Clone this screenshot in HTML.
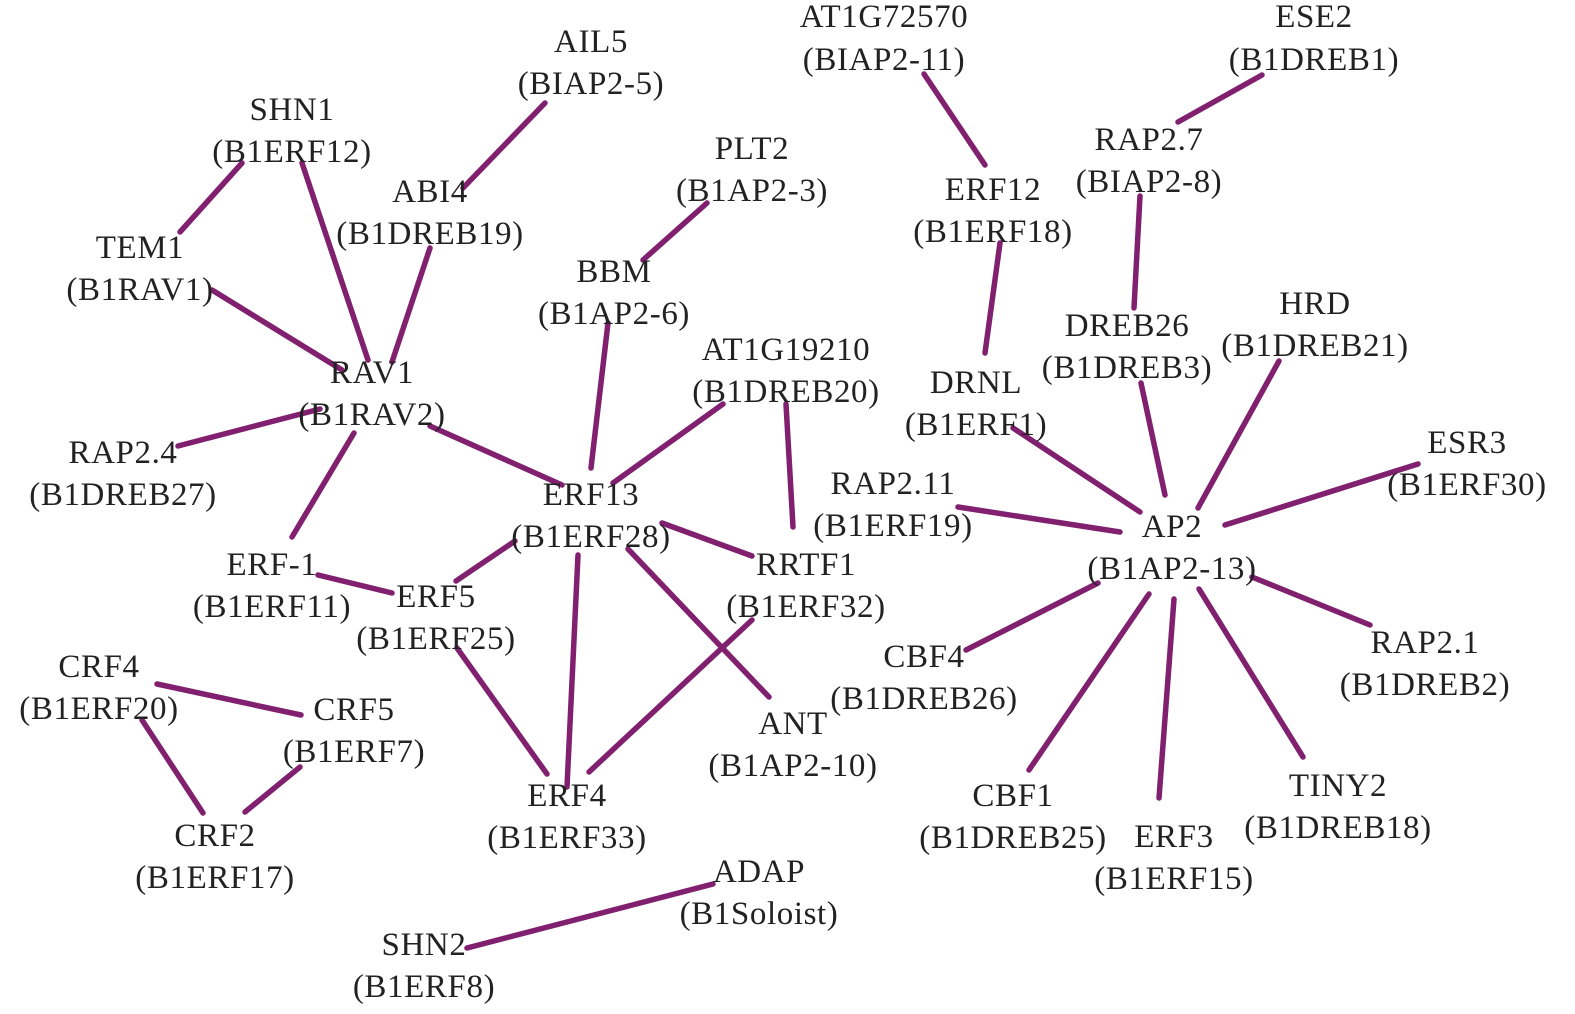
<!DOCTYPE html>
<html><head><meta charset="utf-8"><style>
html,body{margin:0;padding:0;background:#fff;}
svg{display:block;}
text{font-family:"Liberation Serif",serif;font-size:33px;letter-spacing:0.6px;fill:#222;text-anchor:middle;dominant-baseline:central;}
line{stroke:#80206f;stroke-width:5.5;stroke-linecap:round;}
</style></head><body>
<svg width="1575" height="1014" viewBox="0 0 1575 1014">
<g>
<line x1="545" y1="103" x2="463" y2="188"/>
<line x1="242" y1="163" x2="180" y2="232"/>
<line x1="302" y1="163" x2="368" y2="360"/>
<line x1="430" y1="248" x2="392" y2="362"/>
<line x1="212" y1="290" x2="342" y2="370"/>
<line x1="707" y1="203" x2="643" y2="260"/>
<line x1="320" y1="409" x2="178" y2="446"/>
<line x1="354" y1="433" x2="292" y2="537"/>
<line x1="430" y1="426" x2="562" y2="485"/>
<line x1="608" y1="323" x2="591" y2="468"/>
<line x1="723" y1="404" x2="613" y2="483"/>
<line x1="786" y1="404" x2="793" y2="527"/>
<line x1="662" y1="523" x2="752" y2="556"/>
<line x1="515" y1="541" x2="456" y2="581"/>
<line x1="318" y1="575" x2="392" y2="593"/>
<line x1="578" y1="555" x2="567" y2="787"/>
<line x1="628" y1="549" x2="769" y2="697"/>
<line x1="752" y1="620" x2="589" y2="772"/>
<line x1="457" y1="648" x2="547" y2="774"/>
<line x1="157" y1="684" x2="301" y2="715"/>
<line x1="142" y1="720" x2="203" y2="813"/>
<line x1="300" y1="767" x2="245" y2="812"/>
<line x1="713" y1="884" x2="467" y2="948"/>
<line x1="924" y1="74" x2="985" y2="165"/>
<line x1="1262" y1="75" x2="1178" y2="122"/>
<line x1="1140" y1="196" x2="1134" y2="308"/>
<line x1="1000" y1="243" x2="985" y2="353"/>
<line x1="1141" y1="383" x2="1165" y2="495"/>
<line x1="1279" y1="361" x2="1198" y2="508"/>
<line x1="1013" y1="428" x2="1140" y2="512"/>
<line x1="1418" y1="464" x2="1225" y2="525"/>
<line x1="958" y1="507" x2="1120" y2="532"/>
<line x1="1252" y1="577" x2="1370" y2="625"/>
<line x1="1098" y1="583" x2="966" y2="650"/>
<line x1="1149" y1="594" x2="1029" y2="770"/>
<line x1="1174" y1="599" x2="1159" y2="798"/>
<line x1="1199" y1="589" x2="1303" y2="757"/>
</g>
<g>
<text x="884" y="17">AT1G72570</text><text x="884" y="60">(BIAP2-11)</text>
<text x="1314" y="17">ESE2</text><text x="1314" y="60">(B1DREB1)</text>
<text x="591" y="42">AIL5</text><text x="591" y="84">(BIAP2-5)</text>
<text x="292" y="110">SHN1</text><text x="292" y="152">(B1ERF12)</text>
<text x="752" y="149">PLT2</text><text x="752" y="191">(B1AP2-3)</text>
<text x="1149" y="140">RAP2.7</text><text x="1149" y="182">(BIAP2-8)</text>
<text x="430" y="192">ABI4</text><text x="430" y="234">(B1DREB19)</text>
<text x="993" y="190">ERF12</text><text x="993" y="232">(B1ERF18)</text>
<text x="140" y="248">TEM1</text><text x="140" y="290">(B1RAV1)</text>
<text x="614" y="272">BBM</text><text x="614" y="314">(B1AP2-6)</text>
<text x="1315" y="304">HRD</text><text x="1315" y="346">(B1DREB21)</text>
<text x="1127" y="326">DREB26</text><text x="1127" y="368">(B1DREB3)</text>
<text x="786" y="350">AT1G19210</text><text x="786" y="392">(B1DREB20)</text>
<text x="372" y="373">RAV1</text><text x="372" y="415">(B1RAV2)</text>
<text x="976" y="383">DRNL</text><text x="976" y="425">(B1ERF1)</text>
<text x="1467" y="443">ESR3</text><text x="1467" y="485">(B1ERF30)</text>
<text x="123" y="453">RAP2.4</text><text x="123" y="495">(B1DREB27)</text>
<text x="591" y="495">ERF13</text><text x="591" y="537">(B1ERF28)</text>
<text x="893" y="484">RAP2.11</text><text x="893" y="526">(B1ERF19)</text>
<text x="1172" y="527">AP2</text><text x="1172" y="569">(B1AP2-13)</text>
<text x="272" y="565">ERF-1</text><text x="272" y="607">(B1ERF11)</text>
<text x="806" y="565">RRTF1</text><text x="806" y="607">(B1ERF32)</text>
<text x="436" y="597">ERF5</text><text x="436" y="639">(B1ERF25)</text>
<text x="1425" y="643">RAP2.1</text><text x="1425" y="685">(B1DREB2)</text>
<text x="924" y="657">CBF4</text><text x="924" y="699">(B1DREB26)</text>
<text x="99" y="667">CRF4</text><text x="99" y="709">(B1ERF20)</text>
<text x="354" y="710">CRF5</text><text x="354" y="752">(B1ERF7)</text>
<text x="793" y="724">ANT</text><text x="793" y="766">(B1AP2-10)</text>
<text x="1013" y="796">CBF1</text><text x="1013" y="838">(B1DREB25)</text>
<text x="567" y="796">ERF4</text><text x="567" y="838">(B1ERF33)</text>
<text x="1338" y="786">TINY2</text><text x="1338" y="828">(B1DREB18)</text>
<text x="1174" y="837">ERF3</text><text x="1174" y="879">(B1ERF15)</text>
<text x="215" y="836">CRF2</text><text x="215" y="878">(B1ERF17)</text>
<text x="759" y="872">ADAP</text><text x="759" y="914">(B1Soloist)</text>
<text x="424" y="945">SHN2</text><text x="424" y="987">(B1ERF8)</text>
</g>
</svg>
</body></html>
